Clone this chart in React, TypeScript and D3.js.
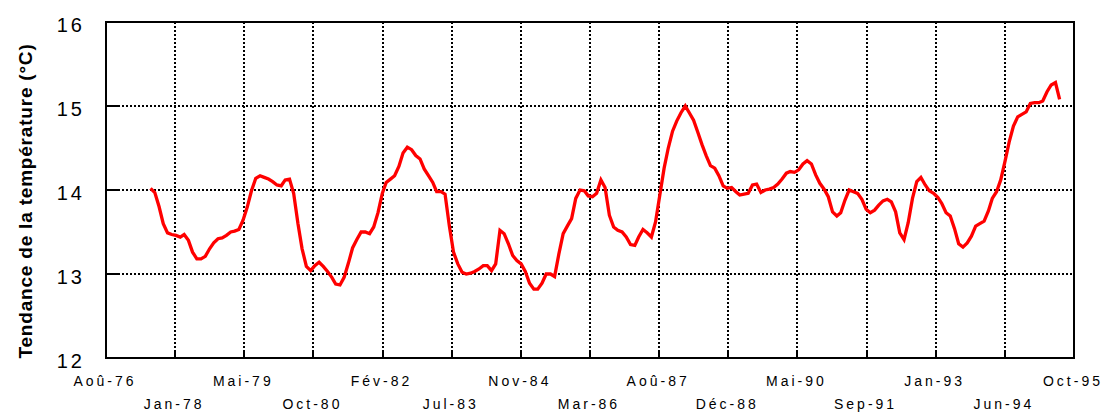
import React from 'react';
import * as d3 from 'd3';

// Monthly smoothed temperature trend, first value = July 1977
const firstMonth = '1977-07-15';
const temps: number[] = [
  14.02, 13.97, 13.80, 13.60, 13.49, 13.47, 13.46, 13.44, 13.47, 13.40,
  13.26, 13.18, 13.18, 13.21, 13.30, 13.37, 13.42, 13.43, 13.46, 13.50,
  13.51, 13.53, 13.64, 13.80, 13.99, 14.14, 14.17, 14.15, 14.13, 14.10,
  14.06, 14.05, 14.12, 14.13, 13.96, 13.60, 13.30, 13.09, 13.04, 13.10,
  13.14, 13.09, 13.03,
  12.96, 12.88, 12.87, 12.96, 13.13, 13.31, 13.41, 13.50, 13.50, 13.48,
  13.56, 13.73, 13.96, 14.09, 14.13, 14.17, 14.28, 14.44, 14.51, 14.48,
  14.41, 14.37, 14.25, 14.17, 14.09, 13.98, 13.98, 13.95, 13.57, 13.26,
  13.12, 13.02, 13.00, 13.01, 13.03, 13.06, 13.10, 13.10, 13.04, 13.12,
  13.52, 13.48, 13.36, 13.22, 13.16, 13.12,
  13.03, 12.89, 12.82, 12.82, 12.89, 13.00, 13.00, 12.97, 13.24, 13.48,
  13.57, 13.66, 13.90, 14.00, 13.99, 13.93, 13.92, 13.96, 14.12, 14.03,
  13.70, 13.56, 13.52, 13.50, 13.44, 13.35, 13.34, 13.44, 13.53, 13.49,
  13.44, 13.62, 13.94, 14.26, 14.50, 14.70, 14.82, 14.92, 15.00, 14.92,
  14.83, 14.69, 14.54, 14.41, 14.29,
  14.26, 14.17, 14.05, 14.02, 14.03, 13.98, 13.94, 13.95, 13.96, 14.06,
  14.07, 13.97, 14.00, 14.01, 14.03, 14.07, 14.13, 14.20, 14.22, 14.21,
  14.24, 14.31, 14.35, 14.31, 14.18, 14.08, 14.01, 13.92, 13.74, 13.69,
  13.73, 13.88, 14.00, 13.98, 13.96, 13.89, 13.77, 13.73, 13.76, 13.82,
  13.87, 13.89, 13.86, 13.74, 13.49,
  13.41, 13.61, 13.90, 14.10, 14.15, 14.06, 13.99, 13.96, 13.91, 13.84,
  13.73, 13.69, 13.54, 13.36, 13.32, 13.37, 13.45, 13.57, 13.60, 13.63,
  13.75, 13.90, 13.98, 14.12, 14.34, 14.57, 14.76, 14.87, 14.90, 14.93,
  15.03, 15.04, 15.04, 15.06, 15.17, 15.25, 15.28, 15.08,
];

const axisStart = '1976-08-27';
const tickStepDays = 500;
const xTickLabels = [
  'Aoû-76', 'Jan-78', 'Mai-79', 'Oct-80', 'Fév-82', 'Jul-83', 'Nov-84', 'Mar-86',
  'Aoû-87', 'Déc-88', 'Mai-90', 'Sep-91', 'Jan-93', 'Jun-94', 'Oct-95',
];
const yTicks = [12, 13, 14, 15, 16];
const yTitle = 'Tendance de la température (°C)';

const W = 1103;
const H = 414;
const L = 106, R = 1074, T = 22, B = 358;
const FONT = 'Arial, "Liberation Sans", sans-serif';

export default function App() {
  const parse = d3.timeParse('%Y-%m-%d');
  const start = parse(axisStart) as Date;
  const end = d3.timeDay.offset(start, tickStepDays * (xTickLabels.length - 1));
  const x = d3.scaleTime().domain([start, end]).range([L, R]);
  const y = d3.scaleLinear().domain([12, 16]).range([B, T]);
  const first = parse(firstMonth) as Date;
  const data = temps.map((v, i) => ({ date: d3.timeMonth.offset(first, i), v }));
  const line = d3
    .line<{ date: Date; v: number }>()
    .x((d) => x(d.date))
    .y((d) => y(d.v));
  const tickDates = xTickLabels.map((_, i) => d3.timeDay.offset(start, i * tickStepDays));
  const rx = (d: Date) => Math.round(x(d));

  return (
    <svg
      width={W}
      height={H}
      style={{ position: 'absolute', left: 0, top: 0, background: '#fff' }}
      fontFamily={FONT}
    >
      <rect x={0} y={0} width={W} height={H} fill="#fff" />
      {/* horizontal dotted grid */}
      {yTicks.filter((t) => t > 12 && t < 16).map((t) => (
        <line key={'hg' + t} x1={L} x2={R} y1={Math.round(y(t))} y2={Math.round(y(t))}
          stroke="#000" strokeWidth={2} strokeDasharray="2,2" shapeRendering="crispEdges" />
      ))}
      {/* vertical dotted grid */}
      {tickDates.slice(1, -1).map((d, i) => (
        <line key={'vg' + i} x1={rx(d)} x2={rx(d)} y1={T} y2={B}
          stroke="#000" strokeWidth={2} strokeDasharray="2,2" shapeRendering="crispEdges" />
      ))}
      {/* frame */}
      <rect x={L} y={T} width={R - L} height={B - T} fill="none" stroke="#000" strokeWidth={2} shapeRendering="crispEdges" />
      {/* y ticks */}
      {yTicks.map((t) => (
        <g key={'yt' + t}>
          <line x1={L} x2={L + 13} y1={Math.round(y(t))} y2={Math.round(y(t))} stroke="#000" strokeWidth={2} shapeRendering="crispEdges" />
          <text x={85} y={y(t) + 10} textAnchor="end" fontSize={20} letterSpacing={3} fill="#000">
            {t}
          </text>
        </g>
      ))}
      {/* x ticks */}
      {tickDates.map((d, i) => (
        <g key={'xt' + i}>
          <line x1={rx(d)} x2={rx(d)} y1={B} y2={B - 7} stroke="#000" strokeWidth={2} shapeRendering="crispEdges" />
          <text
            x={x(d) - 1}
            y={i % 2 === 0 ? 386 : 409}
            textAnchor="middle"
            fontSize={14}
            letterSpacing={3}
            fill="#000"
          >
            {xTickLabels[i]}
          </text>
        </g>
      ))}
      {/* series */}
      <path d={line(data) || ''} fill="none" stroke="#ff0000" strokeWidth={3.3} strokeLinejoin="miter" />
      {/* y title */}
      <text
        transform={`translate(32, ${(T + B) / 2 + 11}) rotate(-90)`}
        textAnchor="middle"
        fontSize={19}
        fontWeight="bold"
        letterSpacing={0.8}
        fill="#000"
      >
        {yTitle}
      </text>
    </svg>
  );
}
